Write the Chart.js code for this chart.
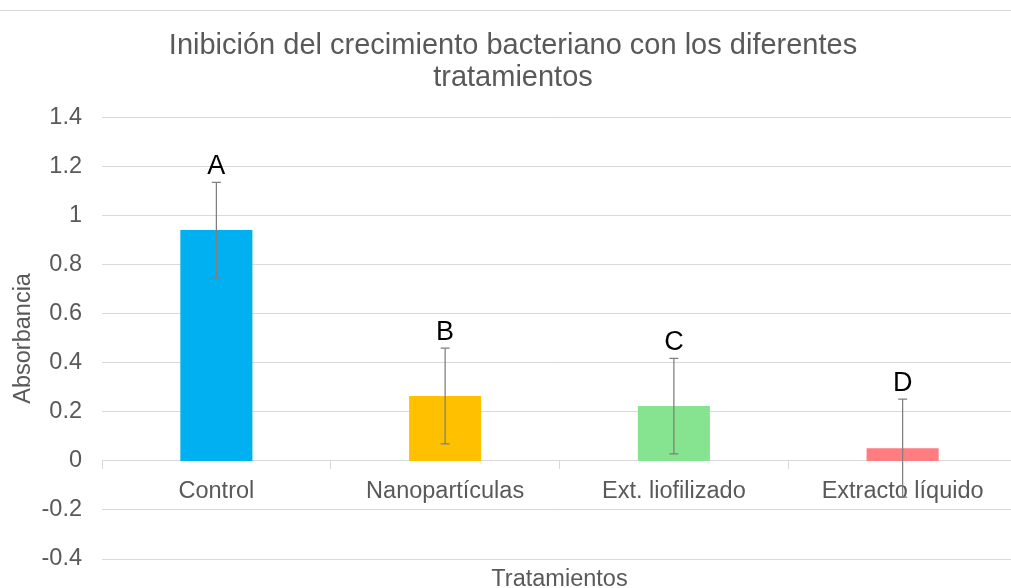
<!DOCTYPE html>
<html>
<head>
<meta charset="utf-8">
<script src="https://cdn.jsdelivr.net/npm/chart.js@4.4.0/dist/chart.umd.min.js"></script>
<style>
    html, body { margin: 0; padding: 0; background: #fff; overflow: hidden; }
    #wrap { width: 1018px; height: 588px; }
</style>
</head>
<body>
<div id="wrap"><canvas id="chart"></canvas></div>
<script>
// Data
const categories = ['Control', 'Nanopartículas', 'Ext. liofilizado', 'Extracto líquido'];
const absorbance = [0.942, 0.265, 0.224, 0.052];
const errors = [0.195, 0.195, 0.195, 0.2];
const groupLetters = ['A', 'B', 'C', 'D'];
const barColors = ['#00B0F0', '#FFC000', '#86E38F', '#FF7C80'];

const greyText = '#595959';
const gridColor = '#d9d9d9';

// error bars + significance letters
const errorBarPlugin = {
    id: 'errorBars',
    afterDatasetsDraw(chart) {
        const ctx = chart.ctx;
        const x = chart.scales.x;
        const y = chart.scales.y;
        ctx.save();
        ctx.strokeStyle = '#7f7f7f';
        ctx.lineWidth = 1.25;
        absorbance.forEach((v, i) => {
            const px = x.getPixelForValue(i);
            const top = y.getPixelForValue(v + errors[i]);
            const bot = y.getPixelForValue(v - errors[i]);
            ctx.beginPath();
            ctx.moveTo(px, top); ctx.lineTo(px, bot);
            ctx.moveTo(px - 4.5, top); ctx.lineTo(px + 4.5, top);
            ctx.moveTo(px - 4.5, bot); ctx.lineTo(px + 4.5, bot);
            ctx.stroke();
            ctx.fillStyle = '#000';
            ctx.font = '27px "Liberation Sans", Arial, sans-serif';
            ctx.textAlign = 'center';
            ctx.textBaseline = 'alphabetic';
            ctx.fillText(groupLetters[i], px, top - 8);
        });
        ctx.restore();
    }
};

// thin frame line at the top of the picture
const topLinePlugin = {
    id: 'topLine',
    beforeDraw(chart) {
        const ctx = chart.ctx;
        ctx.save();
        ctx.strokeStyle = gridColor;
        ctx.lineWidth = 1;
        ctx.beginPath();
        ctx.moveTo(0, 10.5); ctx.lineTo(chart.width, 10.5);
        ctx.stroke();
        ctx.restore();
    }
};

Chart.defaults.font.family = '"Liberation Sans", Arial, sans-serif';
Chart.defaults.color = greyText;

new Chart(document.getElementById('chart'), {
    type: 'bar',
    data: {
        labels: categories,
        datasets: [{
            label: 'Absorbancia',
            data: absorbance,
            backgroundColor: barColors,
            borderWidth: 0,
            barPercentage: 0.315,
            categoryPercentage: 1
        }]
    },
    options: {
        responsive: true,
        maintainAspectRatio: false,
        animation: false,
        layout: { padding: { left: 9, right: 1, top: 0, bottom: 0 } },
        plugins: {
            legend: { display: false },
            tooltip: { enabled: false },
            title: {
                display: true,
                text: ['Inibición del crecimiento bacteriano con los diferentes', 'tratamientos'],
                color: greyText,
                font: { size: 29, weight: 'normal', lineHeight: 1.1 },
                padding: { top: 30, bottom: 24 }
            }
        },
        scales: {
            x: {
                position: { y: 0 },
                grid: { drawOnChartArea: false, drawTicks: true, tickLength: 8, color: gridColor },
                border: { display: true, color: gridColor },
                ticks: { font: { size: 23.5 }, color: greyText, padding: 8 }
            },
            x2: {
                type: 'category',
                labels: categories,
                position: 'bottom',
                grid: { display: false },
                border: { display: false },
                ticks: { display: false },
                title: { display: true, text: 'Tratamientos', color: greyText, font: { size: 23.5, lineHeight: 0.75 }, padding: { top: 0, bottom: 0 } },
                afterFit(scale) { scale.height = 29; }
            },
            y: {
                min: -0.4,
                max: 1.4,
                grid: { color: gridColor, drawTicks: true, tickLength: 20, tickColor: 'rgba(0,0,0,0)' },
                border: { display: false },
                ticks: {
                    stepSize: 0.2,
                    font: { size: 23.5 },
                    color: greyText,
                    padding: 0,
                    callback: (v) => String(Math.round(v * 10) / 10)
                },
                title: { display: true, text: 'Absorbancia', color: greyText, font: { size: 23.5 }, padding: { top: 0, bottom: 0 } },
                afterFit(scale) { scale.width = 93; }
            }
        }
    },
    plugins: [errorBarPlugin, topLinePlugin]
});
</script>
</body>
</html>
